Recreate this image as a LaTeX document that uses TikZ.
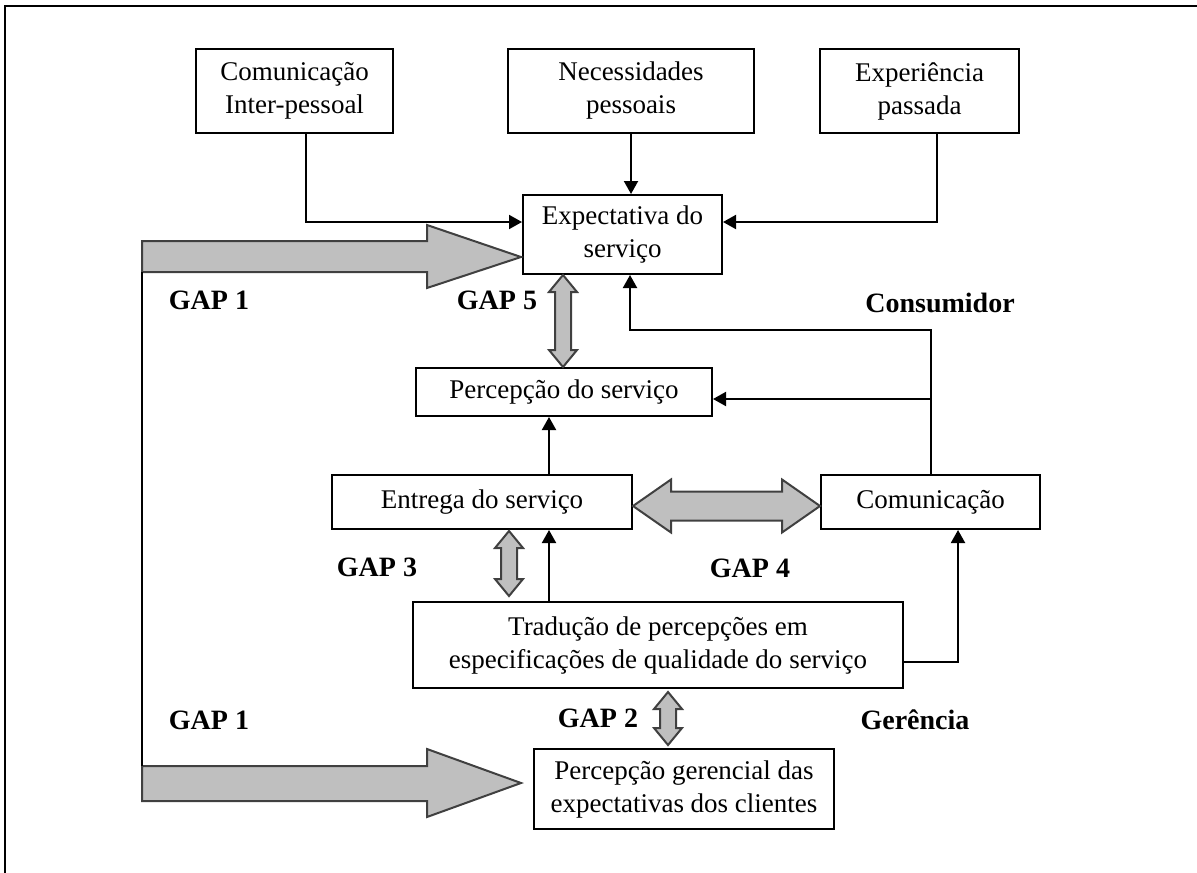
\documentclass[tikz,border=0pt]{standalone}
\usepackage{fontspec}
\setmainfont{Liberation Serif}
\usetikzlibrary{calc,arrows.meta}

% vertical double fat arrow between two coordinates
\newcommand{\dblv}[2]{\draw[fat_style] (#1) -- ++(14,17) -- ++(-6,0) -- ($(#2)+(8,-17)$) -- ++(6,0) -- (#2) -- ++(-14,-17) -- ++(6,0) -- ($(#1)+(-8,17)$) -- ++(-6,0) -- cycle;}

\begin{document}
\begin{tikzpicture}[x=0.5pt,y=-0.5pt,line width=1pt,>={Triangle[length=6.5pt,width=7pt]}]
	\tikzstyle{box_style} = [draw, inner sep=0pt, align=center, font=\fontsize{13.5}{16.5}\selectfont]
	\tikzstyle{gap_style} = [font=\fontsize{14}{16}\selectfont\bfseries, inner sep=0pt]
	\tikzstyle{fat_style} = [fill=black!25, draw=black!75, line join=miter]
	\clip (0,0) rectangle (1197,872);
	\draw[line width=1.1pt] (5,900) -- (5,6) -- (1250,6);
	%%%
	\path (294.5,91) node[box_style,minimum width=98.5pt,minimum height=42pt] (top-1) {Comunicação\\Inter-pessoal};
	\path (631,91) node[box_style,minimum width=123pt,minimum height=42pt] (top-2) {Necessidades\\pessoais};
	\path (919.5,91) node[box_style,minimum width=99.5pt,minimum height=42pt] (top-3) {Experiência\\passada};
	\path (622.5,234.5) node[box_style,minimum width=99.5pt,minimum height=39.5pt] (expect) {Expectativa do\\serviço};
	\path (564,392) node[box_style,minimum width=148pt,minimum height=24pt] (percep) {Percepção do serviço};
	\path (482,502) node[box_style,minimum width=150pt,minimum height=27pt] (entrega) {Entrega do serviço};
	\path (930.5,502) node[box_style,minimum width=109.5pt,minimum height=27pt] (comun) {Comunicação};
	\path (658,645) node[box_style,minimum width=245pt,minimum height=43pt] (trad) {Tradução de percepções em\\especificações de qualidade do serviço};
	\path (684,789) node[box_style,minimum width=150pt,minimum height=40pt] (gerenc) {Percepção gerencial das\\expectativas dos clientes};
	%%%
	\path (209,300) node[gap_style] (gap1-a) {GAP 1};
	\path (497,300) node[gap_style] (gap5) {GAP 5};
	\path (940,303) node[gap_style] (consum) {Consumidor};
	\path (377,567) node[gap_style] (gap3) {GAP 3};
	\path (750,568) node[gap_style] (gap4) {GAP 4};
	\path (209,720) node[gap_style] (gap1-b) {GAP 1};
	\path (598,718) node[gap_style] (gap2) {GAP 2};
	\path (915,720) node[gap_style] (geren) {Gerência};
	%%%
	\draw[->] ([xshift=5.5pt]top-1.south) |- ($(expect.west)+(0,-12.5)$);
	\draw[->] (top-2.south) -- (top-2.south |- expect.north);
	\draw[->] ([xshift=8.75pt]top-3.south) |- ($(expect.east)+(0,-12.5)$);
	\coordinate (loop) at ($(expect.south)+(7.5,55)$);
	\draw[->] (comun.north) |- (loop) -- (loop |- expect.south);
	\coordinate (pin) at ($(percep.east)+(0,7)$);
	\draw[->] (comun.north |- pin) -- (pin);
	\coordinate (up) at ($(entrega.north)+(67,0)$);
	\draw[->] (up) -- (up |- percep.south);
	\draw[->] (trad.north -| up) -- (up |- entrega.south);
	\coordinate (tr) at ($(trad.east)+(0,17)$);
	\draw[->] (tr) -| ($(comun.south)+(27.5,0)$);
	%%% fat arrows
	\coordinate (g1a) at ($(expect.west)+(-1,22.5)$);
	\coordinate (g1b) at ($(gerenc.west)+(-12,-6)$);
	\draw[fat_style] (g1a) -- ++(-94,-32) -- ++(0,16) -- (142,241) -- (142,272) -- ($(g1a)+(-94,15)$) -- ++(0,16) -- cycle;
	\draw[fat_style] (g1b) -- ++(-94,-34) -- ++(0,17) -- (142,766) -- (142,801) -- ($(g1b)+(-94,18)$) -- ++(0,16) -- cycle;
	\draw (142,272) -- (142,766);
	\coordinate (g5a) at ($(expect.south)+(-59.5,0)$);
	\coordinate (g5b) at ($(percep.north)+(-1,0)$);
	\dblv{g5a}{g5b}
	\coordinate (g3a) at ($(entrega.south)+(27,1)$);
	\coordinate (g3b) at ($(trad.north)+(-149,-5)$);
	\dblv{g3a}{g3b}
	\coordinate (g2a) at ($(trad.south)+(10,3)$);
	\coordinate (g2b) at ($(gerenc.north)+(-16,-3)$);
	\dblv{g2a}{g2b}
	\coordinate (g4a) at ($(entrega.east)+(0,4)$);
	\coordinate (g4b) at ($(comun.west)+(0,4)$);
	\draw[fat_style] (g4a) -- ++(38,-26.5) -- ++(0,12) -- ($(g4b)+(-38,-14.5)$) -- ++(0,-12) -- (g4b) -- ++(-38,26.5) -- ++(0,-12) -- ($(g4a)+(38,14.5)$) -- ++(0,12) -- cycle;
\end{tikzpicture}
\end{document}
